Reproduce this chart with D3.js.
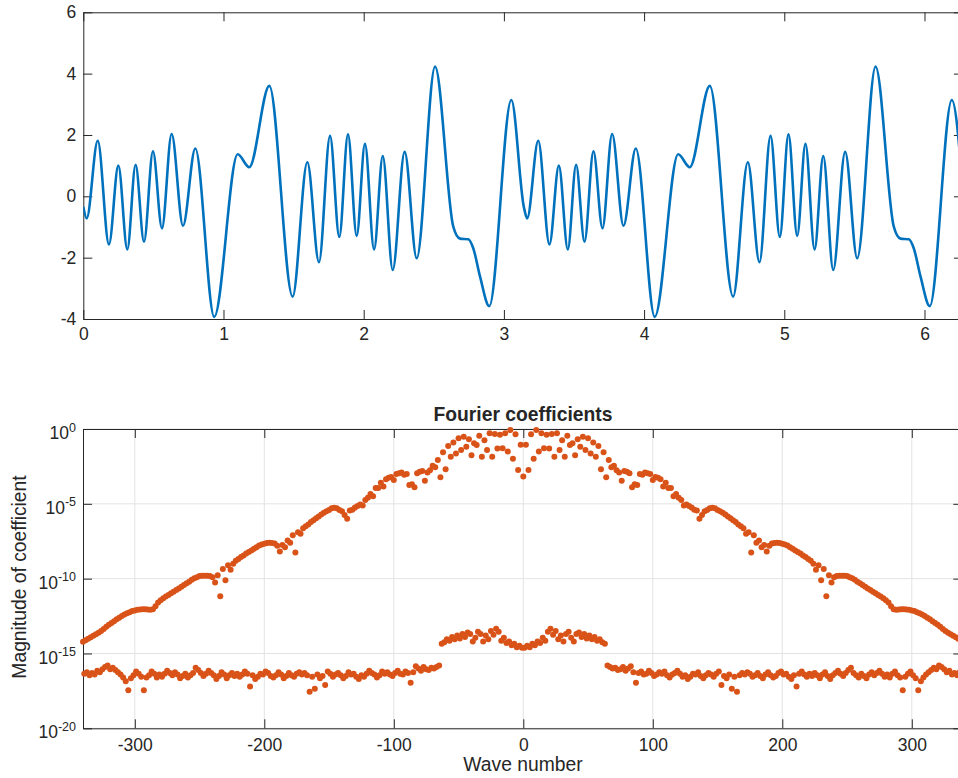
<!DOCTYPE html>
<html><head><meta charset="utf-8">
<script src="https://cdn.jsdelivr.net/npm/d3@7"></script>
<style>
body{margin:0;background:#fff;overflow:hidden}
svg{display:block}
text{font-family:"Liberation Sans",Arial,Helvetica,sans-serif;fill:#262626}
</style>
</head><body><svg id="c" width="958" height="778"></svg>
<script>
// ---------- top panel: signal ----------
const signalX = [0.000,0.024,0.103,0.183,0.250,0.314,0.373,0.433,0.497,0.561,0.630,0.711,0.799,0.934,1.101,1.184,1.327,1.493,1.598,1.681,1.760,1.826,1.888,1.950,2.009,2.074,2.136,2.207,2.292,2.378,2.509,2.639,2.687,2.746,2.782,2.830,2.896,3.053,3.142,
3.166,3.245,3.325,3.392,3.456,3.515,3.575,3.639,3.703,3.772,3.853,3.941,4.076,4.243,4.326,4.469,4.635,4.740,4.823,4.902,4.968,5.030,5.092,5.151,5.216,5.278,5.349,5.434,5.520,5.651,5.781,5.829,5.888,5.924,5.972,6.038,6.195,6.283];
const signalY = [-0.34,-0.72,1.81,-1.57,1.00,-1.73,1.03,-1.48,1.47,-1.04,2.03,-0.96,1.56,-3.93,1.37,0.95,3.60,-3.27,1.11,-2.15,1.97,-1.32,2.02,-1.29,1.71,-1.73,1.31,-2.40,1.45,-2.02,4.23,-0.99,-1.38,-1.40,-1.70,-2.62,-3.58,3.14,-0.34,
-0.72,1.81,-1.57,1.00,-1.73,1.03,-1.48,1.47,-1.04,2.03,-0.96,1.56,-3.93,1.37,0.95,3.60,-3.27,1.11,-2.15,1.97,-1.32,2.02,-1.29,1.71,-1.73,1.31,-2.40,1.45,-2.02,4.23,-0.99,-1.38,-1.40,-1.70,-2.62,-3.58,3.14,-0.34];
const topXTicks = [0,1,2,3,4,5,6];
const topYTicks = [-4,-2,0,2,4,6];

// ---------- bottom panel: log10 of |coefficient| ----------
// even wave numbers k = 0, 2, ..., 338
const evenPosLog = [
-3.18,-1.05,-2.74,-0.35,-1.98,-0.07,-1.51,-0.29,-1.29,-0.38,
-1.30,-0.33,-1.85,-0.29,-1.40,-0.75,-1.85,-0.45,-1.07,-0.96,
-1.75,-0.69,-1.18,-0.51,-1.40,-0.62,-1.63,-0.91,-1.85,-1.14,
-2.69,-1.55,-3.23,-2.07,-2.55,-2.45,-2.75,-2.90,-3.45,-2.80,
-2.85,-2.95,-3.90,-3.70,-3.75,-3.00,-3.05,-2.90,-2.95,-3.00,
-3.40,-3.20,-3.25,-3.35,-3.85,-3.60,-3.95,-3.95,-4.50,-4.35,
-4.60,-4.75,-5.12,-5.05,-5.15,-5.25,-5.40,-5.45,-6.00,-5.75,
-5.50,-5.41,-5.30,-5.26,-5.30,-5.41,-5.50,-5.60,-5.72,-5.85,
-5.97,-6.10,-6.22,-6.38,-6.50,-6.64,-7.00,-6.90,-8.26,-7.10,
-7.60,-7.45,-7.90,-7.75,-8.18,-7.80,-7.65,-7.62,-7.60,-7.62,
-7.66,-7.72,-7.78,-7.90,-8.00,-8.12,-8.22,-8.32,-8.45,-8.55,
-8.68,-8.80,-9.00,-9.40,-9.10,-10.10,-9.36,-11.18,-9.78,-10.25,
-9.90,-9.83,-9.81,-9.80,-9.81,-9.83,-9.90,-9.98,-10.08,-10.20,
-10.31,-10.42,-10.54,-10.65,-10.76,-10.87,-10.98,-11.09,-11.20,-11.31,
-11.45,-11.60,-11.85,-12.05,-12.08,-12.06,-12.05,-12.05,-12.06,-12.08,
-12.12,-12.16,-12.24,-12.32,-12.40,-12.50,-12.62,-12.72,-12.84,-12.96,
-13.08,-13.22,-13.36,-13.50,-13.62,-13.72,-13.82,-13.92,-14.02,-14.12];
// even wave numbers k = -2, -4, ..., -340
const evenNegLog = [
-1.05,-2.74,-0.35,-1.98,-0.07,-1.51,-0.29,-1.29,-0.38,-1.30,
-0.33,-1.85,-0.29,-1.40,-0.75,-1.85,-0.45,-1.07,-0.96,-1.75,
-0.69,-1.18,-0.51,-1.40,-0.62,-1.63,-0.91,-1.85,-1.14,-2.69,
-1.55,-3.23,-2.07,-2.55,-2.45,-2.75,-2.90,-3.45,-2.80,-2.85,
-2.95,-3.90,-3.70,-3.75,-3.00,-3.05,-2.90,-2.95,-3.00,-3.40,
-3.20,-3.25,-3.35,-3.85,-3.60,-3.95,-3.95,-4.50,-4.35,-4.60,
-4.75,-5.12,-5.05,-5.15,-5.25,-5.40,-5.45,-6.00,-5.75,-5.50,
-5.41,-5.30,-5.26,-5.30,-5.41,-5.50,-5.60,-5.72,-5.85,-5.97,
-6.10,-6.22,-6.38,-6.50,-6.64,-7.00,-6.90,-8.26,-7.10,-7.60,
-7.45,-7.90,-7.75,-8.18,-7.80,-7.65,-7.62,-7.60,-7.62,-7.66,
-7.72,-7.78,-7.90,-8.00,-8.12,-8.22,-8.32,-8.45,-8.55,-8.68,
-8.80,-9.00,-9.40,-9.10,-10.10,-9.36,-11.18,-9.78,-10.25,-9.90,
-9.83,-9.81,-9.80,-9.81,-9.83,-9.90,-9.98,-10.08,-10.20,-10.31,
-10.42,-10.54,-10.65,-10.76,-10.87,-10.98,-11.09,-11.20,-11.31,-11.45,
-11.60,-11.85,-12.05,-12.08,-12.06,-12.05,-12.05,-12.06,-12.08,-12.12,
-12.16,-12.24,-12.32,-12.40,-12.50,-12.62,-12.72,-12.84,-12.96,-13.08,
-13.22,-13.36,-13.50,-13.62,-13.72,-13.82,-13.92,-14.02,-14.12,-14.22];
// odd wave numbers k = 1, 3, ..., 339
const oddPosLog = [
-14.62,-14.48,-14.58,-14.35,-14.45,-14.20,-14.30,-13.95,-14.15,-13.55,
-13.35,-13.75,-13.50,-14.05,-13.80,-14.20,-13.70,-13.55,-13.95,-14.20,
-13.70,-13.60,-13.90,-13.70,-14.00,-13.80,-14.05,-13.90,-14.15,-14.05,
-14.25,-14.35,
-15.80,-15.90,-16.00,-15.95,-16.10,-16.05,-15.90,-16.15,-16.00,-15.85,
-16.25,-16.95,-16.30,-16.20,-16.40,-16.35,-16.15,-16.30,-16.50,-16.40,
-16.25,-16.35,-16.20,-16.45,-16.60,-16.40,-16.30,-16.15,-16.35,-16.55,
-16.45,-16.70,-16.55,-16.35,-16.40,-16.25,-16.50,-16.65,-16.45,-16.30,
-16.40,-16.55,-16.35,-16.20,-17.10,-16.50,-16.65,-16.40,-17.35,-16.55,
-17.55,-16.45,-16.30,-16.40,-16.25,-16.35,-16.55,-16.45,-16.30,-16.50,
-16.65,-16.40,-16.25,-16.45,-16.60,-16.50,-16.30,-16.20,-16.40,-16.35,
-16.55,-16.70,-16.45,-17.20,-16.35,-16.20,-16.40,-16.55,-16.35,-16.50,
-16.30,-16.45,-16.65,-16.40,-16.25,-16.50,-16.70,-16.45,-16.30,-16.15,
-16.35,-16.50,-16.30,-16.10,-15.95,-16.30,-16.45,-16.60,-16.35,-16.50,
-16.65,-16.40,-16.25,-16.45,-16.30,-16.15,-16.35,-16.55,-16.40,-16.60,
-16.35,-16.20,-16.45,-16.60,-17.45,-16.55,-16.35,-16.20,-16.45,-16.65,
-17.45,-16.85,-16.60,-16.40,-16.25,-16.10,-15.95,-16.05,-15.80,-15.90,
-16.05,-16.25,-16.15,-16.40,-16.30,-16.45,-16.25,-16.35];
// odd wave numbers k = -1, -3, ..., -339
const oddNegLog = [
-14.62,-14.48,-14.58,-14.35,-14.45,-14.20,-14.30,-13.95,-14.15,-13.55,
-13.35,-13.75,-13.50,-14.05,-13.80,-14.20,-13.70,-13.55,-13.95,-14.20,
-13.70,-13.60,-13.90,-13.70,-14.00,-13.80,-14.05,-13.90,-14.15,-14.05,
-14.25,-14.35,
-15.80,-15.90,-16.00,-15.95,-16.10,-16.05,-15.90,-16.15,-16.00,-15.85,
-16.25,-16.95,-16.30,-16.20,-16.40,-16.35,-16.15,-16.30,-16.50,-16.40,
-16.25,-16.35,-16.20,-16.45,-16.60,-16.40,-16.30,-16.15,-16.35,-16.55,
-16.45,-16.70,-16.55,-16.35,-16.40,-16.25,-16.50,-16.65,-16.45,-16.30,
-16.40,-16.55,-16.35,-16.20,-17.10,-16.50,-16.65,-16.40,-17.35,-16.55,
-17.55,-16.45,-16.30,-16.40,-16.25,-16.35,-16.55,-16.45,-16.30,-16.50,
-16.65,-16.40,-16.25,-16.45,-16.60,-16.50,-16.30,-16.20,-16.40,-16.35,
-16.55,-16.70,-16.45,-17.20,-16.35,-16.20,-16.40,-16.55,-16.35,-16.50,
-16.30,-16.45,-16.65,-16.40,-16.25,-16.50,-16.70,-16.45,-16.30,-16.15,
-16.35,-16.50,-16.30,-16.10,-15.95,-16.30,-16.45,-16.60,-16.35,-16.50,
-16.65,-16.40,-16.25,-16.45,-16.30,-16.15,-16.35,-16.55,-16.40,-16.60,
-16.35,-16.20,-16.45,-16.60,-17.45,-16.55,-16.35,-16.20,-16.45,-16.65,
-17.45,-16.85,-16.60,-16.40,-16.25,-16.10,-15.95,-16.05,-15.80,-15.90,
-16.05,-16.25,-16.15,-16.40,-16.30,-16.45,-16.25,-16.35];
const botXTicks = [-300,-200,-100,0,100,200,300];
const botYExponents = [0,-5,-10,-15,-20];

// ---------- drawing ----------
const svg = d3.select("#c");
const AX = "#262626", TICK = 17.5, LAB = 19.3;
const plain = d => String(d);

function styleAxis(g){
  g.select(".domain").attr("stroke", AX).attr("stroke-width", 1);
  g.selectAll(".tick line").attr("stroke", AX).attr("stroke-width", 1);
  g.selectAll(".tick text").attr("fill", AX).style("font-size", TICK + "px")
   .style("font-family", '"Liberation Sans", Arial, sans-serif');
}

// Top panel
const tL = 83.3, tR = 962.9, tT = 12.3, tB = 319;
const xTop = d3.scaleLinear().domain([0, 6.274]).range([tL, tR]);
const yTop = d3.scaleLinear().domain([-4, 6]).range([tB, tT]);

svg.append("g").attr("transform", `translate(0,${tB})`)
  .call(d3.axisBottom(xTop).tickValues(topXTicks).tickSize(-9).tickSizeOuter(0).tickPadding(9).tickFormat(plain))
  .call(styleAxis);
svg.append("g").attr("transform", `translate(0,${tT})`)
  .call(d3.axisTop(xTop).tickValues(topXTicks).tickSize(-9).tickSizeOuter(0).tickFormat(""))
  .call(styleAxis);
svg.append("g").attr("transform", `translate(${tL},0)`)
  .call(d3.axisLeft(yTop).tickValues(topYTicks).tickSize(-9).tickSizeOuter(0).tickPadding(7).tickFormat(plain))
  .call(styleAxis);
svg.append("g").attr("transform", `translate(${tR},0)`)
  .call(d3.axisRight(yTop).tickValues(topYTicks).tickSize(-9).tickSizeOuter(0).tickFormat(""))
  .call(styleAxis);

svg.append("defs").append("clipPath").attr("id","clipTop")
  .append("rect").attr("x", tL).attr("y", tT).attr("width", tR - tL).attr("height", tB - tT);

const signal = signalX.map((x, i) => ({x, y: signalY[i]}));
svg.append("path").datum(signal)
  .attr("clip-path", "url(#clipTop)")
  .attr("fill", "none").attr("stroke", "#0072BD").attr("stroke-width", 2.6)
  .attr("stroke-linejoin", "round")
  .attr("d", d3.line().x(d => xTop(d.x)).y(d => yTop(d.y)).curve(d3.curveMonotoneX));

// Bottom panel
const bL = 83, bR = 962.3, bT = 429, bB = 728.3;
const xBot = d3.scaleLinear().domain([-340, 339]).range([bL, bR]);
const yBot = d3.scaleLog().domain([1e-20, 1]).range([bB, bT]);
const yTickVals = botYExponents.map(e => Math.pow(10, e));

// grid
const grid = svg.append("g");
grid.selectAll("line.gx").data(botXTicks).join("line")
  .attr("x1", d => xBot(d)).attr("x2", d => xBot(d)).attr("y1", bT).attr("y2", bB)
  .attr("stroke", "#e3e3e3").attr("stroke-width", 1);
grid.selectAll("line.gy").data(yTickVals).join("line")
  .attr("x1", bL).attr("x2", bR).attr("y1", d => yBot(d)).attr("y2", d => yBot(d))
  .attr("stroke", "#e3e3e3").attr("stroke-width", 1);

svg.append("g").attr("transform", `translate(0,${bB})`)
  .call(d3.axisBottom(xBot).tickValues(botXTicks).tickSize(-9).tickSizeOuter(0).tickPadding(10).tickFormat(plain))
  .call(styleAxis);
svg.append("g").attr("transform", `translate(0,${bT})`)
  .call(d3.axisTop(xBot).tickValues(botXTicks).tickSize(-9).tickSizeOuter(0).tickFormat(""))
  .call(styleAxis);
const yAxG = svg.append("g").attr("transform", `translate(${bL},0)`)
  .call(d3.axisLeft(yBot).tickValues(yTickVals).tickSize(-9).tickSizeOuter(0).tickPadding(7).tickFormat(""))
  .call(styleAxis);
yAxG.selectAll(".tick text").each(function(d){
  const t = d3.select(this).attr("dy", "0.55em");
  t.text(null);
  t.append("tspan").text("10");
  t.append("tspan").attr("dy", -7.5).style("font-size", "12.5px").text(String(Math.round(Math.log10(d))));
});
svg.append("g").attr("transform", `translate(${bR},0)`)
  .call(d3.axisRight(yBot).tickValues(yTickVals).tickSize(-9).tickSizeOuter(0).tickFormat(""))
  .call(styleAxis);

// points
const pts = [];
evenPosLog.forEach((v, i) => pts.push({k: 2 * i, v}));
evenNegLog.forEach((v, i) => pts.push({k: -(2 * i + 2), v}));
oddPosLog.forEach((v, i) => pts.push({k: 2 * i + 1, v}));
oddNegLog.forEach((v, i) => pts.push({k: -(2 * i + 1), v}));

svg.append("g").selectAll("circle").data(pts).join("circle")
  .attr("cx", d => xBot(d.k)).attr("cy", d => yBot(Math.pow(10, d.v)))
  .attr("r", 3).attr("fill", "#D95319");

// labels
svg.append("text").attr("x", 523).attr("y", 421).attr("text-anchor", "middle")
  .style("font-size", LAB + "px").style("font-weight", "bold").attr("fill", "#000")
  .text("Fourier coefficients");
svg.append("text").attr("x", 523).attr("y", 771).attr("text-anchor", "middle")
  .style("font-size", LAB + "px").text("Wave number");
svg.append("text").attr("transform", "translate(26,577) rotate(-90)").attr("text-anchor", "middle")
  .style("font-size", LAB + "px").text("Magnitude of coefficient");
</script>
</body></html>
